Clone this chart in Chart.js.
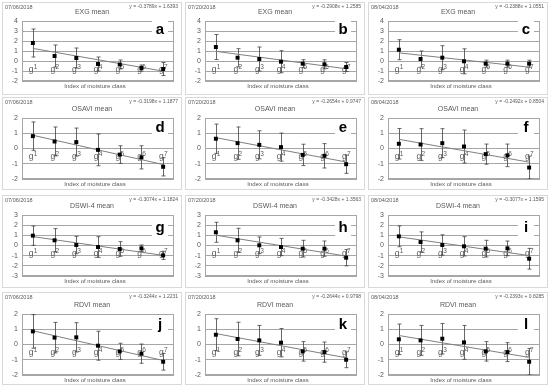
<!DOCTYPE html>
<html>
<head>
<meta charset="utf-8">
<script src="https://cdn.jsdelivr.net/npm/chart.js@4.4.1/dist/chart.umd.min.js"></script>
<style>
  body { margin: 0; background: #fff; }
  #grid { position: relative; width: 550px; height: 391px; }
  .panel { position: absolute; width: 180px; height: 93px; border: 1px solid #d9d9d9; box-sizing: border-box; background: #fff; }
  .panel canvas { display: block; }
</style>
</head>
<body>
<div id="grid"></div>
<script>
const categories = ["g1", "g2", "g3", "g4", "g5", "g6", "g7"];
const dates = ["07/06/2018", "07/20/2018", "08/04/2018"];
const indexTitles = ["EXG mean", "OSAVI mean", "DSWI-4 mean", "RDVI mean"];
const yMin = [-2, -2, -3, -2];
const yMax = [4, 2, 3, 2];
const panelLetters = ["a", "b", "c", "d", "e", "f", "g", "h", "i", "j", "k", "l"];

// class means and error bar half-lengths, one pair per panel
const meanA = [1.8, 0.5, 0.3, -0.3, -0.35, -0.7, -0.8];
const errA = [1.4, 1.1, 1.0, 0.7, 0.45, 0.3, 0.65];
const meanB = [1.4, 0.33, 0.2, -0.07, -0.27, -0.33, -0.6];
const errB = [1.25, 0.9, 1.2, 1.1, 0.4, 0.45, 0.45];
const meanC = [1.13, 0.2, 0.33, -0.03, -0.27, -0.27, -0.27];
const errC = [1.0, 0.8, 1.2, 1.25, 0.35, 0.35, 0.35];
const meanD = [0.81, 0.46, 0.42, -0.09, -0.4, -0.58, -1.2];
const errD = [0.93, 0.95, 0.92, 1.04, 0.58, 0.76, 0.6];
const meanE = [0.64, 0.35, 0.24, 0.09, -0.42, -0.48, -1.03];
const errE = [0.96, 1.06, 0.92, 0.92, 0.7, 0.8, 0.6];
const meanF = [0.31, 0.26, 0.35, 0.13, -0.37, -0.45, -1.25];
const errF = [1.0, 1.04, 0.95, 1.08, 0.66, 0.74, 0.75];
const meanG = [0.97, 0.51, 0.05, -0.15, -0.34, -0.28, -0.97];
const errG = [0.95, 1.15, 0.85, 1.02, 0.72, 0.33, 0.4];
const meanH = [1.3, 0.51, 0.02, -0.15, -0.31, -0.31, -1.2];
const errH = [0.98, 1.18, 0.82, 0.85, 0.82, 0.75, 0.8];
const meanI = [0.9, 0.34, 0.05, -0.08, -0.31, -0.28, -1.3];
const errI = [1.02, 1.0, 1.0, 0.95, 0.82, 0.72, 1.02];
const meanJ = [0.86, 0.45, 0.47, -0.08, -0.45, -0.6, -1.13];
const errJ = [1.1, 1.0, 0.96, 0.95, 0.53, 0.63, 0.55];
const meanK = [0.64, 0.36, 0.27, 0.12, -0.45, -0.5, -1.0];
const errK = [1.05, 1.1, 0.98, 0.93, 0.64, 0.66, 0.52];
const meanL = [0.34, 0.27, 0.38, 0.14, -0.45, -0.5, -1.13];
const errL = [1.0, 0.98, 1.0, 1.11, 0.64, 0.62, 0.87];

// linear trendline y = slope * x + intercept, as printed on each panel
const slopes = [-0.3789, -0.2908, -0.2388, -0.3198, -0.2654, -0.2492, -0.3074, -0.3428, -0.3077, -0.3244, -0.2644, -0.2393];
const intercepts = [1.6393, 1.2585, 1.0551, 1.1877, 0.9747, 0.8504, 1.1824, 1.3563, 1.1595, 1.2231, 0.9798, 0.8285];

const allMeans = [meanA, meanB, meanC, meanD, meanE, meanF, meanG, meanH, meanI, meanJ, meanK, meanL];
const allErrs = [errA, errB, errC, errD, errE, errF, errG, errH, errI, errJ, errK, errL];

// layout
const colX = [2, 185, 368];
const rowY = [2, 97, 195, 292];
const W = 178, H = 91;
const plotTop = [18, 20, 19, 21];
const plotBottom = [78, 81, 80, 82];
const letterDrop = [13, 14, 17, 15];
const FONT = "'Liberation Sans', Arial, sans-serif";
const TEXT = "#595959";

const panelPlugin = {
  id: "panelExtras",
  beforeDatasetsDraw(chart, args, opts) {
    const { ctx, chartArea: a, scales: { x, y } } = chart;
    ctx.save();
    ctx.strokeStyle = "#a6a6a6";
    ctx.lineWidth = 1;
    ctx.strokeRect(a.left + 0.5, a.top + 0.5, a.right - a.left - 1, a.bottom - a.top - 1);

    // letter box
    const lx = a.right - 14;
    const ly = a.top + letterDrop[opts.row];
    ctx.fillStyle = "#fff";
    ctx.fillRect(lx - 8, ly - 13, 16, 17);
    ctx.fillStyle = "#000";
    ctx.font = "bold 15px " + FONT;
    ctx.textAlign = "center";
    ctx.textBaseline = "alphabetic";
    ctx.fillText(opts.letter, lx, ly);

    // category labels hung below the zero line
    const y0 = y.getPixelForValue(0);
    ctx.fillStyle = TEXT;
    ctx.textAlign = "left";
    categories.forEach((c, i) => {
      const cx = x.getPixelForValue(i + 1);
      ctx.font = "8.5px " + FONT;
      const gW = ctx.measureText(c[0]).width;
      ctx.font = "6.5px " + FONT;
      const dW = ctx.measureText(c.slice(1)).width;
      const sx = cx - (gW + dW) / 2;
      ctx.font = "8.5px " + FONT;
      ctx.fillText(c[0], sx, y0 + 10.5);
      ctx.font = "6.5px " + FONT;
      ctx.fillText(c.slice(1), sx + gW + 0.3, y0 + 7.5);
    });

    // error bars
    ctx.beginPath();
    ctx.rect(a.left, a.top, a.right - a.left, a.bottom - a.top);
    ctx.clip();
    ctx.strokeStyle = "#404040";
    ctx.lineWidth = 0.8;
    opts.means.forEach((m, i) => {
      const cx = Math.round(x.getPixelForValue(i + 1)) + 0.5;
      const top = y.getPixelForValue(m + opts.errs[i]);
      const bot = y.getPixelForValue(m - opts.errs[i]);
      ctx.beginPath();
      ctx.moveTo(cx, top); ctx.lineTo(cx, bot);
      ctx.moveTo(cx - 2, top); ctx.lineTo(cx + 2, top);
      ctx.moveTo(cx - 2, bot); ctx.lineTo(cx + 2, bot);
      ctx.stroke();
    });
    ctx.restore();
  },
  afterDraw(chart, args, opts) {
    const { ctx, chartArea: a } = chart;
    ctx.save();
    ctx.fillStyle = TEXT;
    ctx.textBaseline = "middle";
    ctx.font = "5.5px " + FONT;
    ctx.textAlign = "left";
    ctx.fillText(opts.date, 2, 4);
    ctx.textAlign = "right";
    ctx.font = "5px " + FONT;
    ctx.fillText(opts.equation, W - 3, 4);
    ctx.textAlign = "center";
    ctx.font = "7px " + FONT;
    ctx.fillText(opts.title, W / 2, a.top - 9);
    ctx.font = "6px " + FONT;
    ctx.fillText("Index of moisture class", (a.left + a.right) / 2 - 3, a.bottom + 5);
    ctx.restore();
  }
};

const grid = document.getElementById("grid");

allMeans.forEach((means, p) => {
  const row = Math.floor(p / 3);
  const col = p % 3;
  const slope = slopes[p];
  const intercept = intercepts[p];

  const div = document.createElement("div");
  div.className = "panel";
  div.style.left = colX[col] + "px";
  div.style.top = rowY[row] + "px";
  const canvas = document.createElement("canvas");
  canvas.width = W;
  canvas.height = H;
  div.appendChild(canvas);
  grid.appendChild(div);

  new Chart(canvas, {
    data: {
      datasets: [
        {
          type: "scatter",
          data: means.map((v, i) => ({ x: i + 1, y: v })),
          pointStyle: "rect",
          pointRadius: 2.8,
          backgroundColor: "#000",
          borderColor: "#000",
          borderWidth: 0,
          order: 1,
        },
        {
          type: "line",
          data: [
            { x: 1, y: slope * 1 + intercept },
            { x: 7, y: slope * 7 + intercept },
          ],
          borderColor: "#7f7f7f",
          borderWidth: 1,
          pointRadius: 0,
          order: 2,
        },
      ],
    },
    options: {
      responsive: false,
      animation: false,
      devicePixelRatio: 1,
      layout: { padding: { left: 2, right: 7, top: plotTop[row], bottom: H - plotBottom[row] } },
      plugins: {
        legend: { display: false },
        tooltip: { enabled: false },
        panelExtras: {
          row: row,
          letter: panelLetters[p],
          means: means,
          errs: allErrs[p],
          date: dates[col],
          title: indexTitles[row],
          equation: "y = " + slope.toFixed(4) + "x + " + intercept.toFixed(4),
        },
      },
      scales: {
        x: { type: "linear", min: 0.5, max: 7.5, display: false },
        y: {
          min: yMin[row],
          max: yMax[row],
          ticks: { stepSize: 1, autoSkip: false, padding: 4, color: TEXT, font: { size: 7, family: FONT } },
          grid: { color: "#a6a6a6", drawTicks: false },
          border: { display: false },
          afterFit(scale) { scale.width = 17; },
        },
      },
    },
    plugins: [panelPlugin],
  });
});
</script>
</body>
</html>
